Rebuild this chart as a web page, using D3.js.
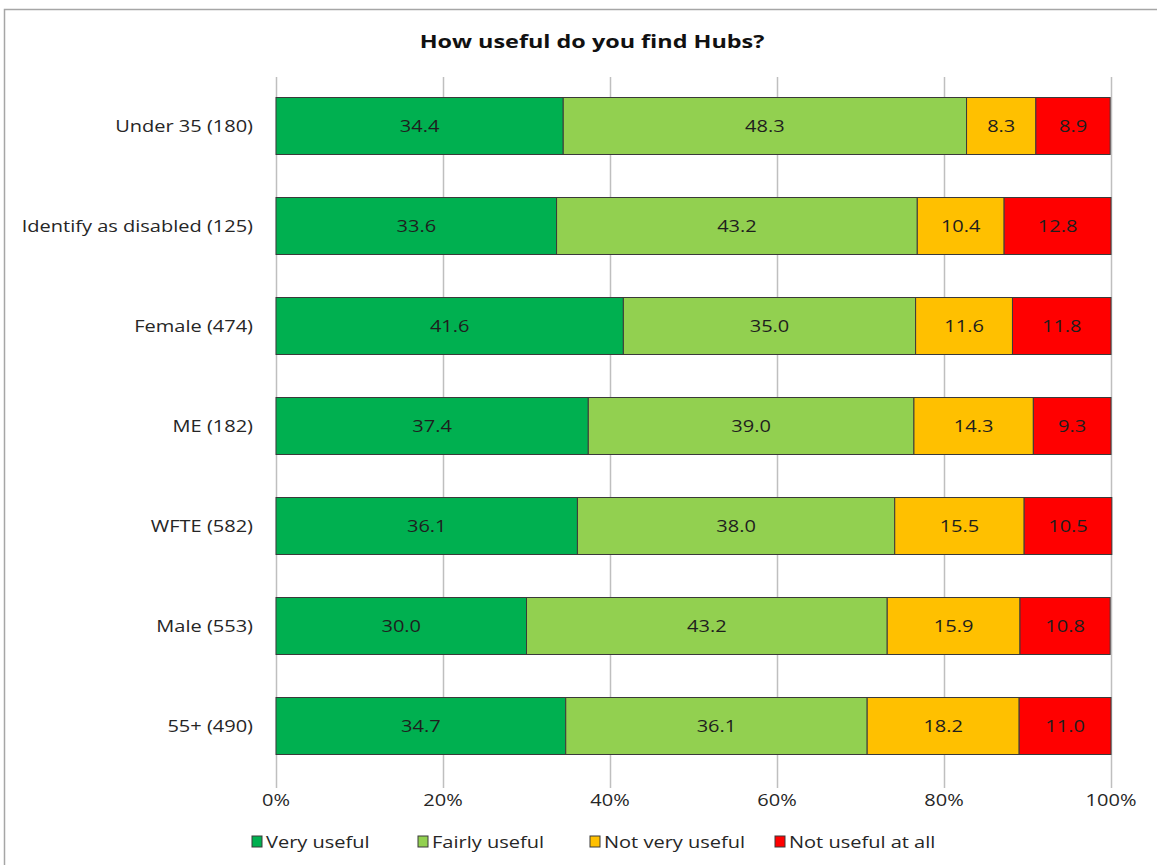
<!DOCTYPE html>
<html><head><meta charset="utf-8">
<script src="https://cdn.jsdelivr.net/npm/d3@7"></script>
<style>body{margin:0;background:#fff;}svg{display:block;font-family:"Open Sans",sans-serif;}</style>
</head><body>
<svg id="c" width="1157" height="865"></svg>
<script>
const categories = ["Under 35 (180)","Identify as disabled (125)","Female (474)","ME (182)","WFTE (582)","Male (553)","55+ (490)"];
const seriesNames = ["Very useful","Fairly useful","Not very useful","Not useful at all"];
const veryUseful = [34.4,33.6,41.6,37.4,36.1,30.0,34.7];
const fairlyUseful = [48.3,43.2,35.0,39.0,38.0,43.2,36.1];
const notVeryUseful = [8.3,10.4,11.6,14.3,15.5,15.9,18.2];
const notUsefulAtAll = [8.9,12.8,11.8,9.3,10.5,10.8,11.0];
const tickValues = [0,0.2,0.4,0.6,0.8,1.0];
const colors = ["#00b050","#92d050","#ffc000","#ff0000"];

const SX = 1.25;
const svg = d3.select("#c");
function txt(sel, x, y, s, opts){
  opts = opts || {};
  const t = sel.append("text")
    .attr("transform",`translate(${x},${y}) scale(${opts.sx||SX},1)`)
    .attr("text-anchor",opts.anchor||"start")
    .attr("dy",opts.dy||"0.36em")
    .attr("font-size",opts.size||16)
    .attr("fill",opts.fill||"#262626")
    .text(s);
  if(opts.bold) t.attr("font-weight","bold");
  return t;
}
// frame
svg.append("rect").attr("x",4.5).attr("y",9.5).attr("width",1160).attr("height",870)
  .attr("fill","#fff").attr("stroke","#a6a6a6").attr("stroke-width",1.5);

txt(svg,592,42,"How useful do you find Hubs?",{anchor:"middle",size:18,bold:true,fill:"#111",sx:1.3});

const x = d3.scaleLinear().domain([0,1]).range([276,1111]);
const y = d3.scaleBand().domain(categories).range([76,776]).paddingInner(0.43).paddingOuter(0.215);

// gridlines
svg.append("g").selectAll("line").data(tickValues).join("line")
  .attr("x1",d=>x(d)+0.5).attr("x2",d=>x(d)+0.5).attr("y1",77).attr("y2",788)
  .attr("stroke","#bfbfbf").attr("stroke-width",1.5);

const data = categories.map((c,i)=>({cat:c, v:[veryUseful[i],fairlyUseful[i],notVeryUseful[i],notUsefulAtAll[i]]}));
const stacked = d3.stack().keys([0,1,2,3]).value((d,k)=>d.v[k]/100)(data);

const g = svg.append("g");
stacked.forEach((layer,k)=>{
  const lg = g.append("g");
  lg.selectAll("rect").data(layer).join("rect")
    .attr("x",d=>x(d[0])).attr("width",d=>x(d[1])-x(d[0]))
    .attr("y",d=>y(d.data.cat)).attr("height",y.bandwidth())
    .attr("fill",colors[k]).attr("stroke","#3a3a3a").attr("stroke-width",1);
  layer.forEach(d=>{
    txt(lg,(x(d[0])+x(d[1]))/2, y(d.data.cat)+y.bandwidth()/2, d.data.v[k].toFixed(1),{anchor:"middle",fill:"#1e1e1e"});
  });
});

// y labels
categories.forEach(c=>txt(svg,253,y(c)+y.bandwidth()/2,c,{anchor:"end"}));

// x tick labels
tickValues.forEach(v=>txt(svg,x(v),800,d3.format(".0%")(v),{anchor:"middle"}));

// legend
const legX = [252,418,590,775];
const lgd = svg.append("g");
seriesNames.forEach((n,i)=>{
  lgd.append("rect").attr("x",legX[i]).attr("y",836).attr("width",10).attr("height",11)
    .attr("fill",colors[i]).attr("stroke","#3a3a3a").attr("stroke-width",1);
  txt(lgd,legX[i]+14,842,n,{});
});
</script>
</body></html>
